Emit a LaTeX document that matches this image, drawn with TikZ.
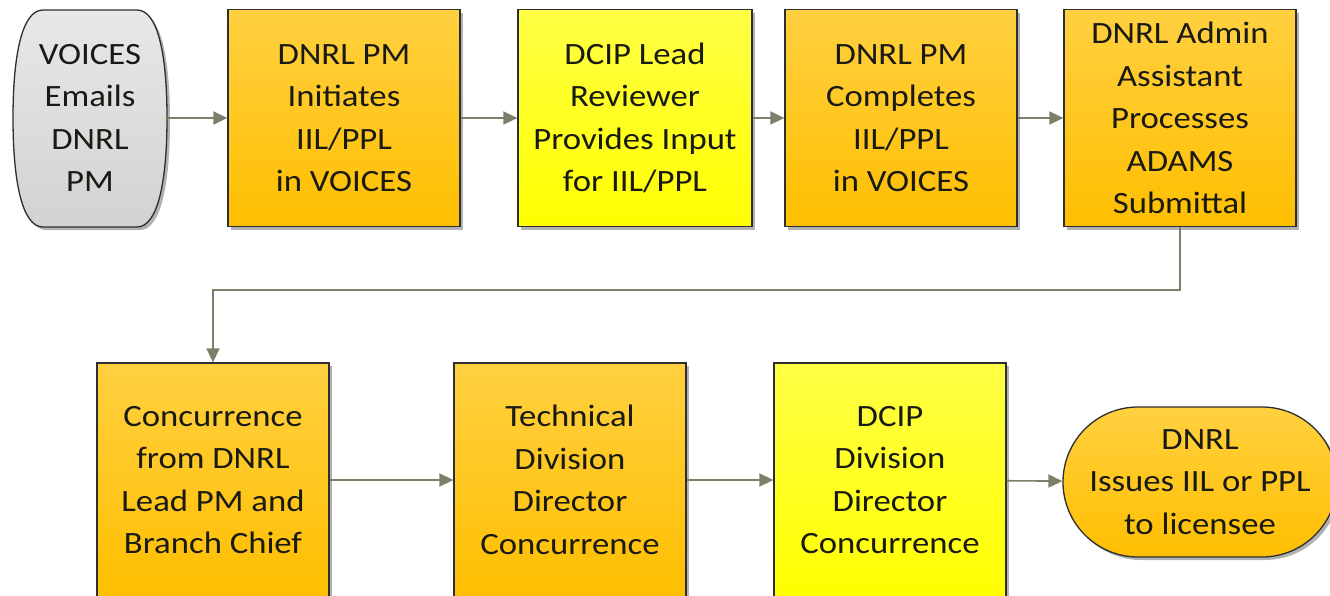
\documentclass[tikz,border=0pt]{standalone}
\usepackage{fontspec}
\setmainfont{Carlito}[FakeStretch=1.12]
\usetikzlibrary{arrows.meta,shadows}
\definecolor{orangetop}{HTML}{FFD040}
\definecolor{orangebot}{HTML}{FFBF00}
\definecolor{yellowtop}{HTML}{FFFF45}
\definecolor{yellowbot}{HTML}{FFFF00}
\definecolor{graytop}{HTML}{E8E8E8}
\definecolor{graybot}{HTML}{D2D2D2}
\definecolor{linecol}{HTML}{7E7E6A}
\definecolor{edgecol}{HTML}{2E2E2E}
\definecolor{txtcol}{HTML}{1A1A14}
\tikzset{
  shadowed/.style={drop shadow={shadow xshift=3pt, shadow yshift=-3pt, fill=black, opacity=0.3}},
  base/.style={draw=edgecol, line width=1.3pt, align=center, inner sep=0pt,
    text=txtcol, font=\fontsize{31}{42.5}\selectfont, shadowed},
  obox/.style={base, rectangle, top color=orangetop, bottom color=orangebot,
    minimum width=232pt, minimum height=217pt},
  ybox/.style={base, rectangle, top color=yellowtop, bottom color=yellowbot,
    minimum width=234pt, minimum height=217pt},
  tall/.style={minimum height=234pt},
  gtext/.style={align=center, inner sep=0pt, text=txtcol, font=\fontsize{31}{42.5}\selectfont,
    minimum width=154pt, minimum height=217pt},
  gshape/.style={draw=edgecol, line width=1.3pt, top color=graytop, bottom color=graybot, shadowed},
  opill/.style={base, rectangle, rounded corners=75pt, top color=orangetop, bottom color=orangebot,
    minimum width=274pt, minimum height=150pt},
  conn/.style={draw=linecol, line width=1.6pt, -{Triangle[length=14pt,width=13pt]}}
}
\begin{document}
\begin{tikzpicture}[x=1pt,y=-1pt]
\useasboundingbox[fill=white] (0,0) rectangle (1330,595);
\path[gshape] (43,10) -- (137,10) .. controls (158,10) and (167,55) .. (167,118)
  .. controls (167,181) and (158,227) .. (137,227) -- (43,227)
  .. controls (22,227) and (13,181) .. (13,118)
  .. controls (13,55) and (22,10) .. (43,10) -- cycle;
\node[gtext] (v) at (90,118) {VOICES\\Emails\\DNRL\\PM};
\node[obox] (b1) at (344,118) {DNRL PM\\Initiates\\IIL/PPL\\in VOICES};
\node[ybox] (b2) at (635,118) {DCIP Lead\\Reviewer\\Provides Input\\for IIL/PPL};
\node[obox] (b3) at (901,118) {DNRL PM\\Completes\\IIL/PPL\\in VOICES};
\node[obox] (b4) at (1180,118) {DNRL Admin\\Assistant\\Processes\\ADAMS\\Submittal};
\node[obox,tall] (b5) at (213,480) {Concurrence\\from DNRL\\Lead PM and\\Branch Chief};
\node[obox,tall] (b6) at (570,480) {Technical\\Division\\Director\\Concurrence};
\node[ybox,tall,minimum width=232pt] (b7) at (890,480) {DCIP\\Division\\Director\\Concurrence};
\node[opill] (t) at (1200,482) {DNRL\\Issues IIL or PPL\\to licensee};
\coordinate (c1) at (1180,290);
\coordinate (c2) at (213,290);
\draw[conn] (v) -- (b1);
\draw[conn] (b1) -- (b2);
\draw[conn] (b2) -- (b3);
\draw[conn] (b3) -- (b4);
\draw[conn] (b4.south) -- (c1) -- (c2) -- (b5.north);
\draw[conn] (b5) -- (b6);
\draw[conn] (b6) -- (b7);
\draw[conn] (b7) -- (t);
\end{tikzpicture}
\end{document}
